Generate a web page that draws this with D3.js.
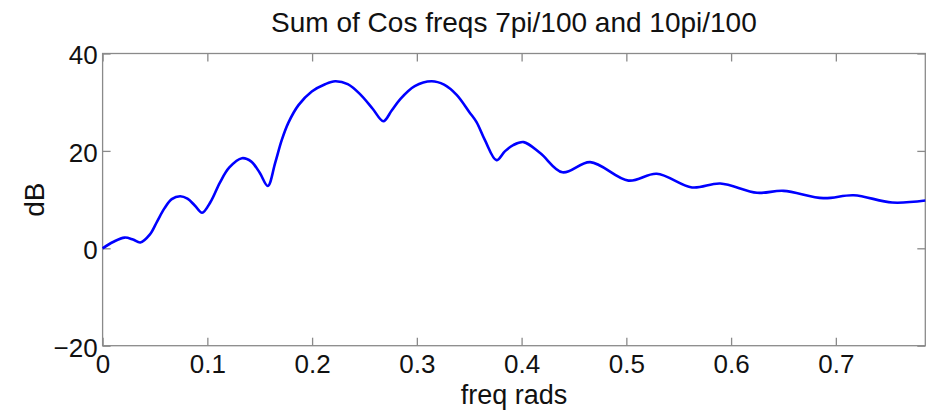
<!DOCTYPE html>
<html>
<head>
<meta charset="utf-8">
<script src="https://cdn.jsdelivr.net/npm/d3@7"></script>
<style>
  html, body { margin: 0; padding: 0; background: #fff; }
  svg text { font-family: "Liberation Sans", Arial, Helvetica, sans-serif; fill: #111; }
</style>
</head>
<body>
<svg id="chart" width="936" height="415"></svg>
<script>
// Magnitude response (dB) of cos(7*pi/100 n) + cos(10*pi/100 n)
const freq = [
  0, 0.010, 0.021, 0.029, 0.036, 0.045, 0.052, 0.059, 0.066, 0.074,
  0.081, 0.088, 0.095, 0.103, 0.112, 0.121, 0.133, 0.142, 0.150, 0.1577,
  0.1647, 0.171, 0.1774, 0.187, 0.1997, 0.2124, 0.222, 0.234, 0.246,
  0.258, 0.268, 0.276, 0.284, 0.298, 0.314, 0.326, 0.338, 0.350, 0.357,
  0.365, 0.376, 0.384, 0.392, 0.402, 0.418, 0.439, 0.4655, 0.502, 0.529, 0.5627,
  0.5897, 0.6247, 0.650, 0.688, 0.717, 0.7537, 0.7854
];
const magDb = [
  0, 1.3, 2.2, 1.8, 1.2, 2.8, 5.5, 8.2, 10.1, 10.7,
  10.2, 8.8, 7.3, 9.5, 13.5, 16.6, 18.5, 17.8, 15.5, 12.8,
  17.5, 22.2, 25.8, 29.4, 32.2, 33.7, 34.3, 33.7, 31.6,
  28.6, 26.1, 28.3, 30.6, 33.3, 34.3, 33.6, 31.5, 28.0, 25.9,
  22.2, 18.1, 19.9, 21.2, 21.8, 19.5, 15.6, 17.7, 13.9, 15.3, 12.5,
  13.3, 11.4, 11.8, 10.3, 10.9, 9.4, 9.8
];
const xTicks = [0, 0.1, 0.2, 0.3, 0.4, 0.5, 0.6, 0.7];
const yTicks = [-20, 0, 20, 40];
const titleText = "Sum of Cos freqs 7pi/100 and 10pi/100";
const xLabelText = "freq rads";
const yLabelText = "dB";

const svg = d3.select("#chart");
const m = { left: 102.6, right: 925.3, top: 53.5, bottom: 345.7 };

const x = d3.scaleLinear().domain([0, Math.PI / 4]).range([m.left, m.right]);
const y = d3.scaleLinear().domain([-20, 40]).range([m.bottom, m.top]);

const axisColor = "#8a8a8a";
const tickLen = 8;
const tickFont = 26;
const labelFont = 28;

// Frame
svg.append("rect")
  .attr("x", m.left).attr("y", m.top)
  .attr("width", m.right - m.left).attr("height", m.bottom - m.top)
  .attr("fill", "none").attr("stroke", axisColor).attr("stroke-width", 1.3);

// Axes with inward ticks
function styleAxis(g) {
  g.select(".domain").remove();
  g.selectAll(".tick line").attr("stroke", axisColor).attr("stroke-width", 1.3);
  g.selectAll(".tick text").attr("font-size", tickFont).attr("fill", "#111")
    .style("font-family", '"Liberation Sans", Arial, sans-serif');
}

svg.append("g").attr("transform", `translate(0,${m.bottom})`)
  .call(d3.axisBottom(x).tickValues(xTicks).tickFormat(d3.format("")).tickSizeInner(-tickLen).tickSizeOuter(0).tickPadding(9))
  .call(styleAxis);
svg.append("g").attr("transform", `translate(0,${m.top})`)
  .call(d3.axisTop(x).tickValues(xTicks).tickFormat("").tickSizeInner(-tickLen).tickSizeOuter(0))
  .call(styleAxis);
svg.append("g").attr("transform", `translate(${m.left},0)`)
  .call(d3.axisLeft(y).tickValues(yTicks).tickFormat(d => d < 0 ? "\u2212" + Math.abs(d) : d).tickSizeInner(-tickLen).tickSizeOuter(0).tickPadding(5))
  .call(styleAxis)
  .selectAll(".tick text").attr("dy", "0.40em");
svg.append("g").attr("transform", `translate(${m.right},0)`)
  .call(d3.axisRight(y).tickValues(yTicks).tickFormat("").tickSizeInner(-tickLen).tickSizeOuter(0))
  .call(styleAxis);

// Curve
const line = d3.line()
  .x((d, i) => x(freq[i]))
  .y(d => y(d))
  .curve(d3.curveCatmullRom.alpha(0.5));

svg.append("path")
  .datum(magDb)
  .attr("d", line)
  .attr("fill", "none")
  .attr("stroke", "#0000ff")
  .attr("stroke-width", 2.6)
  .attr("stroke-linejoin", "round");

// Labels
svg.append("text")
  .attr("x", (m.left + m.right) / 2).attr("y", 32)
  .attr("text-anchor", "middle").attr("font-size", labelFont)
  .text(titleText);

svg.append("text")
  .attr("x", (m.left + m.right) / 2).attr("y", 404)
  .attr("text-anchor", "middle").attr("font-size", 27)
  .text(xLabelText);

svg.append("text")
  .attr("transform", `translate(44,${(m.top + m.bottom) / 2}) rotate(-90)`)
  .attr("text-anchor", "middle").attr("font-size", labelFont)
  .text(yLabelText);
</script>
</body>
</html>
